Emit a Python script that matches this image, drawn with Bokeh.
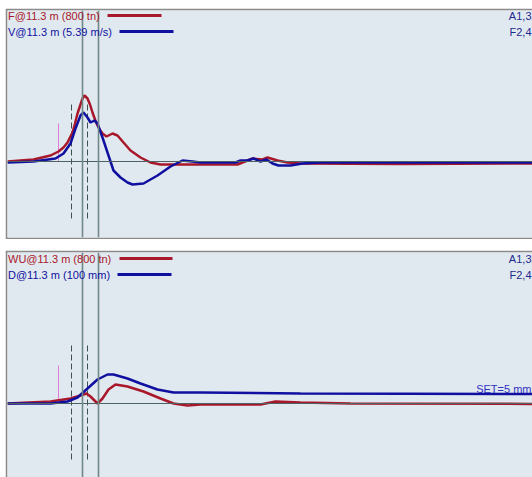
from bokeh.plotting import figure
from bokeh.models import Range1d, Span, Label, Spacer
from bokeh.layouts import column, row
from bokeh.embed import file_html
from bokeh.resources import INLINE

# ---- data (time in ms) ----
t_F = [0.2, 5.4, 8.8, 10.4, 11.4, 12.2, 13.2, 13.7, 14.2, 15.2, 15.6, 16.2, 16.7, 17.2, 17.7,
       18.2, 18.7, 19.2, 20.0, 21.2, 22.2, 23.4, 24.8, 26.8, 28.8, 30.8, 33.4, 38.8, 46.2,
       49.2, 51.2, 52.2, 54.2, 56.2, 58.8, 78.8, 105.2]
F = [0, 10, 30, 50, 70, 95, 145, 190, 240, 315, 330, 315, 285, 245, 210,
     180, 158, 140, 125, 140, 130, 95, 55, 20, -5, -15, -15, -15, -15,
     15, 10, 20, 5, -5, -10, -12, -10]

t_V = [0.2, 5.4, 9.8, 11.4, 12.8, 13.8, 14.8, 15.4, 16.2, 16.8, 17.6, 18.2, 19.2, 20.2, 21.4,
       22.8, 24.2, 25.2, 27.4, 30.2, 32.8, 35.2, 37.2, 38.8, 45.8, 46.8, 48.2, 49.4, 50.8,
       52.0, 53.2, 54.4, 56.8, 59.2, 62.8, 105.2]
V = [-0.1, 0, 0.3, 0.8, 1.8, 3.3, 4.6, 4.9, 4.4, 3.9, 4.1, 3.8, 2.4, 0.9, -0.9,
     -1.6, -2.1, -2.3, -2.2, -1.4, -0.5, 0.1, 0, -0.1, -0.1, 0.1, 0.1, 0.3, 0,
     0.2, -0.2, -0.4, -0.4, -0.2, -0.1, -0.1]

t_D = [0.2, 8.8, 12.2, 14.2, 16.2, 18.2, 20.2, 21.4, 24.2, 26.8, 30.2, 33.4, 38.8, 58.8, 105.2]
D = [0, 0, 1.0, 3.0, 7.5, 12.0, 14.5, 14.5, 12.5, 10.0, 7.0, 5.5, 5.5, 5.0, 4.75]

t_WU = [0.2, 8.8, 12.8, 14.8, 16.0, 16.8, 18.2, 19.2, 20.4, 21.8, 24.2, 27.4, 30.8, 33.4,
        36.2, 38.8, 50.8, 53.8, 58.8, 68.8, 105.2]
WU = [0, 10, 25, 40, 50, 35, 0, 25, 70, 95, 85, 60, 25, 0,
      -10, -5, -5, 10, 5, 0, -2]

t_solid = [15.2, 18.4]
t_dash = [13.0, 16.2]
t_pink = 10.4

top_labels = ["F@11.3 m (800 tn)", "V@11.3 m (5.39 m/s)"]
bot_labels = ["WU@11.3 m (800 tn)", "D@11.3 m (100 mm)"]
right_labels = ["A1,3", "F2,4"]
set_label = "SET=5 mm"

# ---- style ----
BG = "#e1e9f0"
BORDER = "#8a8a8a"
RED = "#a8182a"
BLUE = "#1010a0"
SOLID = "#6f8888"
ZERO = "#4d6262"
DASH = "#3f5050"
PINK = "#e07ad8"
NAVY = "#1f2a8c"
FONT = "Liberation Sans"
X_RIGHT = 105.0


def base(height, yr, bottom):
    p = figure(width=527, height=height, x_range=Range1d(0.2, 105.2), y_range=yr,
               output_backend="svg", toolbar_location=None,
               x_axis_location=None, y_axis_location=None,
               min_border_left=2, min_border_top=2, min_border_right=0,
               min_border_bottom=bottom)
    p.grid.visible = False
    p.background_fill_color = BG
    p.border_fill_color = BORDER
    p.outline_line_color = None
    p.add_layout(Span(location=0, dimension="width", line_color=ZERO, line_width=1))
    for t in t_solid:
        p.add_layout(Span(location=t, dimension="height", line_color=SOLID, line_width=1.6))
    return p


def txt(p, x, y, s, color, align="left"):
    p.add_layout(Label(x=x, y=y, text=s, text_color=color, text_font=FONT,
                       text_font_size="11px", text_baseline="middle", text_align=align))


# ---- top panel ----
p1 = base(231, Range1d(-380, 755), 2)
p1.extra_y_ranges = {"v": Range1d(-7.6, 15.1)}
p1.segment(x0=t_dash, y0=[285, 285], x1=t_dash, y1=[-285, -285], line_color=DASH,
           line_width=1, line_dash="6 3")
p1.segment(x0=[t_pink], y0=[190], x1=[t_pink], y1=[0], line_color=PINK, line_width=1)
p1.line(t_F, F, line_color=RED, line_width=2.5)
p1.line(t_V, V, line_color=BLUE, line_width=2.5, y_range_name="v")
txt(p1, 0.3, 730, top_labels[0], RED)
txt(p1, 0.3, 650, top_labels[1], BLUE)
p1.segment(x0=[20.2], y0=[730], x1=[31.0], y1=[730], line_color=RED, line_width=3)
p1.segment(x0=[22.6], y0=[650], x1=[33.4], y1=[650], line_color=BLUE, line_width=3)
txt(p1, X_RIGHT, 730, right_labels[0], NAVY, "right")
txt(p1, X_RIGHT, 650, right_labels[1], NAVY, "right")

# ---- bottom panel ----
p2 = base(227, Range1d(-37, 75.5), 0)
p2.extra_y_ranges = {"wu": Range1d(-370, 755)}
p2.segment(x0=t_dash, y0=[29, 29], x1=t_dash, y1=[-28.5, -28.5], line_color=DASH,
           line_width=1, line_dash="6 3")
p2.segment(x0=[t_pink], y0=[19], x1=[t_pink], y1=[1.5], line_color=PINK, line_width=1)
p2.line(t_WU, WU, line_color=RED, line_width=2.5, y_range_name="wu")
p2.line(t_D, D, line_color=BLUE, line_width=2.5)
txt(p2, 0.3, 72.5, bot_labels[0], RED)
txt(p2, 0.3, 64.5, bot_labels[1], BLUE)
p2.segment(x0=[22.6], y0=[72.5], x1=[33.2], y1=[72.5], line_color=RED, line_width=3)
p2.segment(x0=[22.2], y0=[64.5], x1=[33.0], y1=[64.5], line_color=BLUE, line_width=3)
txt(p2, X_RIGHT, 72.5, right_labels[0], NAVY, "right")
txt(p2, X_RIGHT, 64.5, right_labels[1], NAVY, "right")
txt(p2, X_RIGHT, 7.5, set_label, "#3030c0", "right")

panels = column(p1, p2, spacing=11)
layout = column(Spacer(height=8), row(Spacer(width=5), panels, spacing=0), spacing=0)
open("out.html", "w").write(file_html(layout, INLINE))
